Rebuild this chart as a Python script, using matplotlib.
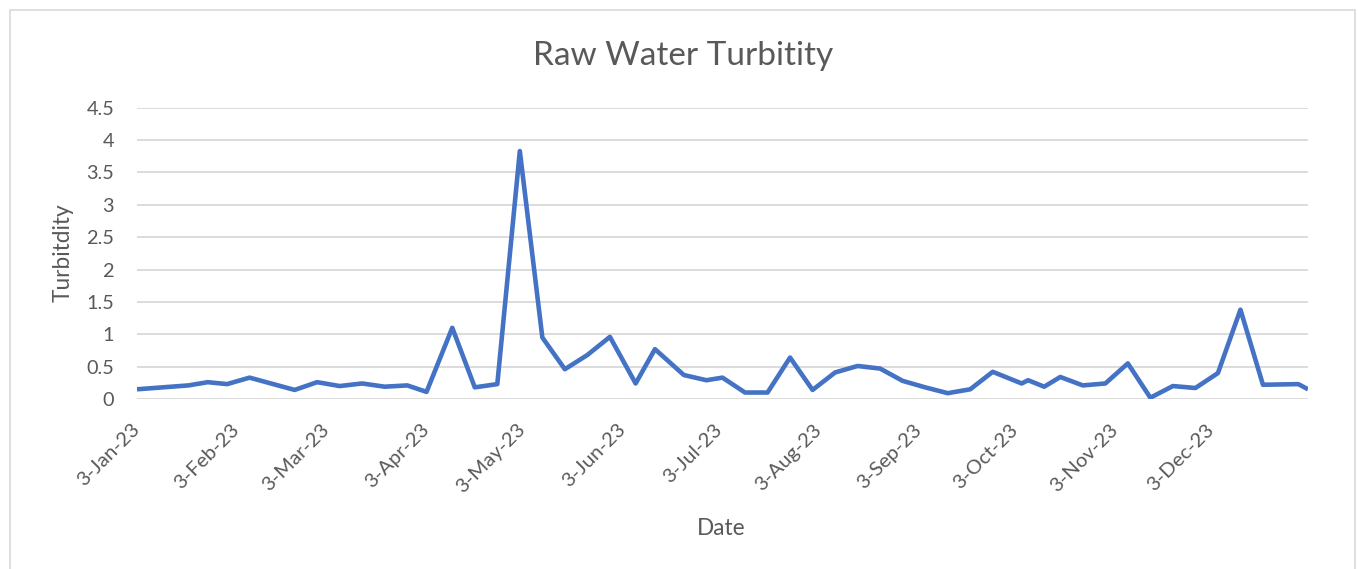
import matplotlib
matplotlib.use("Agg")
import matplotlib.pyplot as plt
from matplotlib.patches import Rectangle
import pandas as pd

dates = ["2023-01-03", "2023-01-19", "2023-01-25", "2023-01-31", "2023-02-07",
         "2023-02-21", "2023-02-28", "2023-03-07", "2023-03-14", "2023-03-21",
         "2023-03-28", "2023-04-03", "2023-04-11", "2023-04-18", "2023-04-25",
         "2023-05-02", "2023-05-09", "2023-05-16", "2023-05-23", "2023-05-30",
         "2023-06-07", "2023-06-13", "2023-06-22", "2023-06-29", "2023-07-04",
         "2023-07-11", "2023-07-18", "2023-07-25", "2023-08-01", "2023-08-08",
         "2023-08-15", "2023-08-22", "2023-08-29", "2023-09-05", "2023-09-12",
         "2023-09-19", "2023-09-26", "2023-10-05", "2023-10-07", "2023-10-12",
         "2023-10-17", "2023-10-24", "2023-10-31", "2023-11-07", "2023-11-14",
         "2023-11-21", "2023-11-28", "2023-12-05", "2023-12-12", "2023-12-19",
         "2023-12-30", "2024-01-02"]
turbidity = [0.15, 0.21, 0.26, 0.23, 0.33, 0.14, 0.26, 0.20, 0.24, 0.19,
             0.21, 0.11, 1.10, 0.18, 0.23, 3.83, 0.95, 0.46, 0.68, 0.96,
             0.24, 0.77, 0.37, 0.29, 0.33, 0.10, 0.10, 0.64, 0.14, 0.41,
             0.51, 0.47, 0.28, 0.18, 0.09, 0.15, 0.42, 0.24, 0.29, 0.19,
             0.34, 0.21, 0.24, 0.55, 0.02, 0.20, 0.17, 0.40, 1.38, 0.22,
             0.23, 0.15]
tick_dates = ["2023-01-03", "2023-02-03", "2023-03-03", "2023-04-03", "2023-05-03",
              "2023-06-03", "2023-07-03", "2023-08-03", "2023-09-03", "2023-10-03",
              "2023-11-03", "2023-12-03"]
tick_labels = ["3-Jan-23", "3-Feb-23", "3-Mar-23", "3-Apr-23", "3-May-23", "3-Jun-23",
               "3-Jul-23", "3-Aug-23", "3-Sep-23", "3-Oct-23", "3-Nov-23", "3-Dec-23"]
y_ticks = [0, 0.5, 1, 1.5, 2, 2.5, 3, 3.5, 4, 4.5]
y_tick_labels = ["0", "0.5", "1", "1.5", "2", "2.5", "3", "3.5", "4", "4.5"]
title = "Raw Water Turbitity"
x_title = "Date"
y_title = "Turbitdity"

x = pd.to_datetime(dates)
xt = pd.to_datetime(tick_dates)

plt.rcParams['font.family'] = ['Lato', 'DejaVu Sans']
TXT = "#595959"
W, H = 1358, 569
fig = plt.figure(figsize=(W / 100, H / 100), dpi=100)
fig.patch.set_facecolor("white")
renderer = fig.canvas.get_renderer()


def fit_size(s, target_px, base=10.0):
    t = fig.text(0, 0, s, fontsize=base)
    w = t.get_window_extent(renderer).width
    t.remove()
    return base * target_px / w


ytick_fs = fit_size("4.5", 28)
xtick_fs = fit_size("3-Jan-23", 80)
title_fs = fit_size(title, 300)
axt_fs = (fit_size(x_title, 48) + fit_size(y_title, 100)) / 2

# chart area border
fig.patches.append(Rectangle((10 / W, -0.05), (1355 - 10) / W, (H - 9.5) / H + 0.05,
                             transform=fig.transFigure, fill=False,
                             edgecolor="#D9D9D9", linewidth=1.2))

left, right = 137 / W, 1308 / W
bottom, top = (H - 399) / H, (H - 107.7) / H
ax = fig.add_axes([left, bottom, right - left, top - bottom])

ax.plot(x, turbidity, color="#4472C4", linewidth=3.3, solid_joinstyle="round",
        solid_capstyle="butt", zorder=3)

ax.set_xlim(x[0], x[-1])
ax.set_ylim(0, 4.5)
ax.set_yticks(y_ticks)
ax.set_yticklabels(y_tick_labels, fontsize=ytick_fs)
ax.set_xticks(xt)
ax.set_xticklabels(tick_labels, rotation=45, ha="right", va="center",
                   rotation_mode="anchor", fontsize=xtick_fs)

for s in ax.spines.values():
    s.set_visible(False)
ax.grid(axis="y", color="#D9D9D9", linewidth=1.3, zorder=0)
ax.tick_params(axis="both", length=0, colors=TXT)
ax.tick_params(axis="y", pad=16.5)
ax.tick_params(axis="x", pad=20)

fig.text(683 / W, 1 - 65 / H, title, fontsize=title_fs, color=TXT,
         ha="center", va="baseline")
fig.text(721 / W, 1 - 535 / H, x_title, fontsize=axt_fs, color=TXT,
         ha="center", va="baseline")
fig.text(70 / W, 1 - 253 / H, y_title, fontsize=axt_fs, color=TXT, rotation=90,
         ha="center", va="baseline", rotation_mode="anchor")

fig.savefig("out.png", dpi=100, facecolor="white")
